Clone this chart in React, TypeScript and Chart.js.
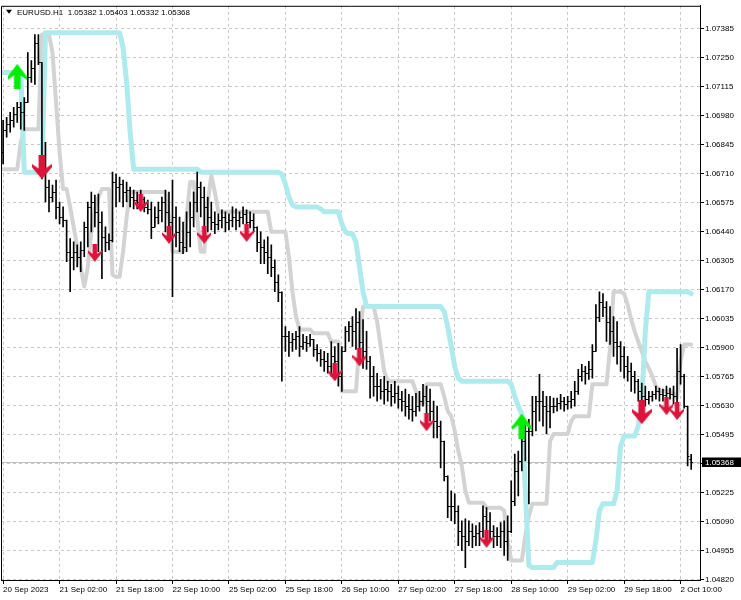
import React, { useEffect, useRef } from 'react';
import { Chart, registerables } from 'chart.js';

Chart.register(...registerables);

// ---------------- data ----------------
const symbolTitle = 'EURUSD.H1';
const lastBarOHLC = [1.05382, 1.05403, 1.05332, 1.05368];

const timeTickBars = [0, 16, 32, 48, 64, 80, 96, 112, 128, 144, 160, 176, 192];
const timeTickLabels = [
  '20 Sep 2023', '21 Sep 02:00', '21 Sep 18:00', '22 Sep 10:00', '25 Sep 02:00',
  '25 Sep 18:00', '26 Sep 10:00', '27 Sep 02:00', '27 Sep 18:00', '28 Sep 10:00',
  '29 Sep 02:00', '29 Sep 18:00', '2 Oct 10:00',
];
const priceTicks = [
  1.0482, 1.04955, 1.0509, 1.05225, 1.0536, 1.05495, 1.0563, 1.05765, 1.059, 1.06035,
  1.0617, 1.06305, 1.0644, 1.06575, 1.0671, 1.06845, 1.0698, 1.07115, 1.0725, 1.07385,
];

const opens = [
  1.06810, 1.06912, 1.06940, 1.06958, 1.06987, 1.07019, 1.06996, 1.07042, 1.07158, 1.07204,
  1.07320, 1.07228, 1.06740, 1.06648, 1.06601, 1.06624, 1.06555, 1.06508, 1.06494, 1.06346,
  1.06323, 1.06346, 1.06323, 1.06355, 1.06462, 1.06555, 1.06578, 1.06532, 1.06485, 1.06416,
  1.06392, 1.06402, 1.06671, 1.06648, 1.06662, 1.06624, 1.06634, 1.06601, 1.06587, 1.06578,
  1.06592, 1.06555, 1.06546, 1.06462, 1.06508, 1.06541, 1.06578, 1.06532, 1.06485, 1.06508,
  1.06439, 1.06392, 1.06369, 1.06439, 1.06508, 1.06578, 1.06648, 1.06601, 1.06555, 1.06508,
  1.06485, 1.06476, 1.06494, 1.06508, 1.06485, 1.06494, 1.06508, 1.06494, 1.06508, 1.06523,
  1.06485, 1.06494, 1.06462, 1.06392, 1.06369, 1.06346, 1.06323, 1.06276, 1.06207, 1.06160,
  1.05952, 1.05952, 1.05928, 1.05938, 1.05952, 1.05905, 1.05928, 1.05919, 1.05938, 1.05891,
  1.05873, 1.05845, 1.05836, 1.05812, 1.05859, 1.05836, 1.05766, 1.05882, 1.05975, 1.05998,
  1.05975, 1.06021, 1.05928, 1.05882, 1.05836, 1.05766, 1.05720, 1.05720, 1.05696, 1.05706,
  1.05696, 1.05673, 1.05687, 1.05659, 1.05650, 1.05627, 1.05613, 1.05604, 1.05627, 1.05650,
  1.05673, 1.05650, 1.05604, 1.05557, 1.05534, 1.05464, 1.05302, 1.05163, 1.05163, 1.05140,
  1.05047, 1.05024, 1.05000, 1.05047, 1.05024, 1.05038, 1.05047, 1.05116, 1.05093, 1.05047,
  1.05024, 1.05024, 1.05047, 1.05000, 1.05047, 1.05186, 1.05325, 1.05372, 1.05464, 1.05511,
  1.05511, 1.05604, 1.05650, 1.05650, 1.05627, 1.05604, 1.05627, 1.05627, 1.05641, 1.05650,
  1.05636, 1.05650, 1.05659, 1.05696, 1.05766, 1.05789, 1.05780, 1.05798, 1.05882, 1.06044,
  1.06114, 1.06091, 1.06021, 1.05975, 1.05928, 1.05905, 1.05859, 1.05812, 1.05789, 1.05766,
  1.05743, 1.05696, 1.05673, 1.05659, 1.05673, 1.05682, 1.05696, 1.05682, 1.05677, 1.05687,
  1.05682, 1.05673, 1.05789, 1.05766, 1.05627, 1.05382,
];
const highs = [
  1.06958, 1.06972, 1.06996, 1.07019, 1.07042, 1.07042, 1.07065, 1.07274, 1.07237, 1.07358,
  1.07358, 1.07228, 1.06856, 1.06680, 1.06657, 1.06680, 1.06578, 1.06555, 1.06494, 1.06407,
  1.06392, 1.06378, 1.06392, 1.06485, 1.06578, 1.06624, 1.06610, 1.06615, 1.06532, 1.06462,
  1.06430, 1.06717, 1.06708, 1.06694, 1.06680, 1.06671, 1.06648, 1.06634, 1.06624, 1.06634,
  1.06601, 1.06587, 1.06578, 1.06555, 1.06578, 1.06601, 1.06634, 1.06624, 1.06680, 1.06555,
  1.06508, 1.06485, 1.06532, 1.06578, 1.06624, 1.06717, 1.06671, 1.06648, 1.06601, 1.06578,
  1.06532, 1.06523, 1.06541, 1.06532, 1.06523, 1.06555, 1.06546, 1.06532, 1.06555, 1.06541,
  1.06532, 1.06523, 1.06462, 1.06439, 1.06402, 1.06416, 1.06378, 1.06309, 1.06239, 1.06160,
  1.05998, 1.05975, 1.05966, 1.05975, 1.05998, 1.05961, 1.05952, 1.05961, 1.05938, 1.05914,
  1.05891, 1.05882, 1.05873, 1.05928, 1.05905, 1.05919, 1.05905, 1.05998, 1.06021, 1.06044,
  1.06082, 1.06068, 1.06030, 1.05975, 1.05859, 1.05812, 1.05780, 1.05752, 1.05766, 1.05743,
  1.05729, 1.05743, 1.05720, 1.05696, 1.05706, 1.05682, 1.05673, 1.05687, 1.05696, 1.05729,
  1.05720, 1.05706, 1.05650, 1.05627, 1.05557, 1.05464, 1.05302, 1.05232, 1.05218, 1.05163,
  1.05093, 1.05102, 1.05093, 1.05079, 1.05070, 1.05084, 1.05163, 1.05154, 1.05131, 1.05070,
  1.05061, 1.05084, 1.05093, 1.05116, 1.05279, 1.05404, 1.05418, 1.05534, 1.05557, 1.05566,
  1.05673, 1.05673, 1.05775, 1.05696, 1.05673, 1.05673, 1.05664, 1.05664, 1.05682, 1.05668,
  1.05673, 1.05696, 1.05743, 1.05798, 1.05822, 1.05812, 1.05836, 1.05914, 1.06100, 1.06160,
  1.06151, 1.06114, 1.06091, 1.06044, 1.06021, 1.05928, 1.05905, 1.05859, 1.05827, 1.05789,
  1.05752, 1.05734, 1.05720, 1.05696, 1.05696, 1.05720, 1.05711, 1.05706, 1.05720, 1.05711,
  1.05720, 1.05896, 1.05914, 1.05775, 1.05627, 1.05403,
];
const lows = [
  1.06755, 1.06880, 1.06903, 1.06926, 1.06949, 1.06917, 1.06912, 1.07042, 1.07135, 1.07126,
  1.07218, 1.06685, 1.06578, 1.06532, 1.06578, 1.06499, 1.06476, 1.06462, 1.06300, 1.06160,
  1.06262, 1.06276, 1.06253, 1.06323, 1.06369, 1.06439, 1.06462, 1.06346, 1.06221, 1.06346,
  1.06355, 1.06392, 1.06555, 1.06578, 1.06555, 1.06578, 1.06555, 1.06546, 1.06546, 1.06555,
  1.06532, 1.06523, 1.06407, 1.06462, 1.06476, 1.06485, 1.06439, 1.06416, 1.06137, 1.06369,
  1.06346, 1.06337, 1.06346, 1.06369, 1.06462, 1.06532, 1.06508, 1.06462, 1.06439, 1.06448,
  1.06430, 1.06448, 1.06457, 1.06439, 1.06448, 1.06462, 1.06448, 1.06462, 1.06476, 1.06448,
  1.06457, 1.06439, 1.06346, 1.06291, 1.06291, 1.06244, 1.06230, 1.06160, 1.06114, 1.05743,
  1.05882, 1.05859, 1.05882, 1.05891, 1.05859, 1.05891, 1.05882, 1.05905, 1.05859, 1.05836,
  1.05812, 1.05789, 1.05780, 1.05766, 1.05752, 1.05720, 1.05696, 1.05882, 1.05928, 1.05905,
  1.05891, 1.05859, 1.05803, 1.05798, 1.05664, 1.05673, 1.05650, 1.05659, 1.05636, 1.05650,
  1.05627, 1.05641, 1.05618, 1.05604, 1.05580, 1.05566, 1.05557, 1.05580, 1.05604, 1.05627,
  1.05580, 1.05557, 1.05479, 1.05479, 1.05339, 1.05279, 1.05107, 1.05093, 1.05079, 1.04977,
  1.04954, 1.04875, 1.04977, 1.04968, 1.04977, 1.04977, 1.05015, 1.05024, 1.05000, 1.04968,
  1.04977, 1.04968, 1.04931, 1.04908, 1.05038, 1.05163, 1.05209, 1.05325, 1.05372, 1.05172,
  1.05488, 1.05511, 1.05557, 1.05534, 1.05497, 1.05525, 1.05595, 1.05604, 1.05613, 1.05604,
  1.05613, 1.05618, 1.05627, 1.05682, 1.05743, 1.05729, 1.05752, 1.05757, 1.05882, 1.06021,
  1.06044, 1.05928, 1.05914, 1.05859, 1.05822, 1.05789, 1.05757, 1.05743, 1.05696, 1.05687,
  1.05650, 1.05618, 1.05627, 1.05636, 1.05650, 1.05659, 1.05650, 1.05650, 1.05650, 1.05659,
  1.05636, 1.05618, 1.05729, 1.05618, 1.05348, 1.05332,
];
const closes = [
  1.06912, 1.06940, 1.06958, 1.06987, 1.07019, 1.06996, 1.07042, 1.07158, 1.07204, 1.07320,
  1.07228, 1.06740, 1.06648, 1.06601, 1.06624, 1.06555, 1.06508, 1.06494, 1.06346, 1.06323,
  1.06346, 1.06323, 1.06355, 1.06462, 1.06555, 1.06578, 1.06532, 1.06485, 1.06416, 1.06392,
  1.06402, 1.06671, 1.06648, 1.06662, 1.06624, 1.06634, 1.06601, 1.06587, 1.06578, 1.06592,
  1.06555, 1.06546, 1.06462, 1.06508, 1.06541, 1.06578, 1.06532, 1.06485, 1.06508, 1.06439,
  1.06392, 1.06369, 1.06439, 1.06508, 1.06578, 1.06648, 1.06601, 1.06555, 1.06508, 1.06485,
  1.06476, 1.06494, 1.06508, 1.06485, 1.06494, 1.06508, 1.06494, 1.06508, 1.06523, 1.06485,
  1.06494, 1.06462, 1.06392, 1.06369, 1.06346, 1.06323, 1.06276, 1.06207, 1.06160, 1.05952,
  1.05952, 1.05928, 1.05938, 1.05952, 1.05905, 1.05928, 1.05919, 1.05938, 1.05891, 1.05873,
  1.05845, 1.05836, 1.05812, 1.05859, 1.05836, 1.05766, 1.05882, 1.05975, 1.05998, 1.05975,
  1.06021, 1.05928, 1.05882, 1.05836, 1.05766, 1.05720, 1.05720, 1.05696, 1.05706, 1.05696,
  1.05673, 1.05687, 1.05659, 1.05650, 1.05627, 1.05613, 1.05604, 1.05627, 1.05650, 1.05673,
  1.05650, 1.05604, 1.05557, 1.05534, 1.05464, 1.05302, 1.05163, 1.05163, 1.05140, 1.05047,
  1.05024, 1.05000, 1.05047, 1.05024, 1.05038, 1.05047, 1.05116, 1.05093, 1.05047, 1.05024,
  1.05024, 1.05047, 1.05000, 1.05047, 1.05186, 1.05325, 1.05372, 1.05464, 1.05511, 1.05511,
  1.05604, 1.05650, 1.05650, 1.05627, 1.05604, 1.05627, 1.05627, 1.05641, 1.05650, 1.05636,
  1.05650, 1.05659, 1.05696, 1.05766, 1.05789, 1.05780, 1.05798, 1.05882, 1.06044, 1.06114,
  1.06091, 1.06021, 1.05975, 1.05928, 1.05905, 1.05859, 1.05812, 1.05789, 1.05766, 1.05743,
  1.05696, 1.05673, 1.05659, 1.05673, 1.05682, 1.05696, 1.05682, 1.05677, 1.05687, 1.05682,
  1.05673, 1.05789, 1.05766, 1.05627, 1.05395, 1.05368,
];

// trailing-stop style channel (light cyan) and middle line (light grey)
const channelUpper = [
  1.07181, 1.07181, 1.07181, 1.07181, 1.07181, 1.07181, 1.06717, 1.06717, 1.06717, 1.06717,
  1.06717, 1.06717, 1.07367, 1.07367, 1.07367, 1.07367, 1.07367, 1.07367, 1.07367, 1.07367,
  1.07367, 1.07367, 1.07367, 1.07367, 1.07367, 1.07367, 1.07367, 1.07367, 1.07367, 1.07367,
  1.07367, 1.07367, 1.07367, 1.07367, 1.07297, 1.07135, 1.06903, 1.06731, 1.06731, 1.06731,
  1.06731, 1.06731, 1.06731, 1.06731, 1.06731, 1.06731, 1.06731, 1.06731, 1.06731, 1.06731,
  1.06731, 1.06731, 1.06731, 1.06731, 1.06731, 1.06731, 1.06717, 1.06717, 1.06717, 1.06717,
  1.06717, 1.06717, 1.06717, 1.06717, 1.06717, 1.06717, 1.06717, 1.06717, 1.06717, 1.06717,
  1.06717, 1.06717, 1.06717, 1.06717, 1.06717, 1.06717, 1.06717, 1.06717, 1.06717, 1.06708,
  1.06662, 1.06601, 1.06564, 1.06555, 1.06555, 1.06555, 1.06555, 1.06555, 1.06555, 1.06555,
  1.06546, 1.06532, 1.06532, 1.06532, 1.06532, 1.06532, 1.06476, 1.06439, 1.06430, 1.06430,
  1.06392, 1.06276, 1.06160, 1.06091, 1.06091, 1.06091, 1.06091, 1.06091, 1.06091, 1.06091,
  1.06091, 1.06091, 1.06091, 1.06091, 1.06091, 1.06091, 1.06091, 1.06091, 1.06091, 1.06091,
  1.06091, 1.06091, 1.06091, 1.06091, 1.06091, 1.06068, 1.05998, 1.05905, 1.05812, 1.05757,
  1.05743, 1.05743, 1.05743, 1.05743, 1.05743, 1.05743, 1.05743, 1.05743, 1.05743, 1.05743,
  1.05743, 1.05743, 1.05743, 1.05743, 1.05729, 1.05673, 1.05627, 1.05590, 1.05232, 1.04884,
  1.04875, 1.04875, 1.04875, 1.04875, 1.04875, 1.04875, 1.04875, 1.04899, 1.04899, 1.04899,
  1.04899, 1.04899, 1.04899, 1.04899, 1.04899, 1.04899, 1.04899, 1.04899, 1.05000, 1.05140,
  1.05172, 1.05172, 1.05172, 1.05172, 1.05232, 1.05441, 1.05488, 1.05488, 1.05488, 1.05488,
  1.05534, 1.05650, 1.05975, 1.06160, 1.06160, 1.06160, 1.06160, 1.06160, 1.06160, 1.06160,
  1.06160, 1.06160, 1.06160, 1.06160, 1.06160, 1.06151,
];
const channelMiddle = [
  1.06731, 1.06731, 1.06731, 1.06731, 1.06731, 1.06856, 1.06917, 1.06917, 1.06917, 1.06917,
  1.06917, 1.07358, 1.07358, 1.07358, 1.07274, 1.07042, 1.06810, 1.06638, 1.06638, 1.06555,
  1.06462, 1.06369, 1.06276, 1.06184, 1.06276, 1.06439, 1.06546, 1.06601, 1.06638, 1.06638,
  1.06638, 1.06239, 1.06230, 1.06230, 1.06346, 1.06508, 1.06624, 1.06624, 1.06624, 1.06624,
  1.06624, 1.06624, 1.06624, 1.06624, 1.06624, 1.06624, 1.06624, 1.06508, 1.06346, 1.06346,
  1.06346, 1.06346, 1.06508, 1.06671, 1.06671, 1.06508, 1.06346, 1.06346, 1.06578, 1.06703,
  1.06624, 1.06532, 1.06532, 1.06532, 1.06532, 1.06532, 1.06532, 1.06532, 1.06532, 1.06532,
  1.06532, 1.06532, 1.06532, 1.06532, 1.06532, 1.06532, 1.06439, 1.06439, 1.06439, 1.06439,
  1.06439, 1.06323, 1.06160, 1.06044, 1.05984, 1.05984, 1.05984, 1.05984, 1.05966, 1.05966,
  1.05966, 1.05966, 1.05966, 1.05928, 1.05928, 1.05928, 1.05696, 1.05696, 1.05696, 1.05696,
  1.05696, 1.05928, 1.06091, 1.06091, 1.06091, 1.06091, 1.06021, 1.05905, 1.05789, 1.05743,
  1.05743, 1.05743, 1.05743, 1.05743, 1.05743, 1.05743, 1.05743, 1.05696, 1.05636, 1.05636,
  1.05729, 1.05729, 1.05729, 1.05729, 1.05729, 1.05673, 1.05604, 1.05580, 1.05511, 1.05418,
  1.05348, 1.05232, 1.05177, 1.05177, 1.05177, 1.05177, 1.05177, 1.05154, 1.05154, 1.05154,
  1.05154, 1.05154, 1.05140, 1.05000, 1.04908, 1.04908, 1.04908, 1.04908, 1.05024, 1.05116,
  1.05172, 1.05172, 1.05172, 1.05172, 1.05172, 1.05464, 1.05497, 1.05497, 1.05497, 1.05497,
  1.05497, 1.05557, 1.05580, 1.05580, 1.05580, 1.05580, 1.05580, 1.05729, 1.05729, 1.05729,
  1.05729, 1.05729, 1.05896, 1.06160, 1.06160, 1.06160, 1.06151, 1.06100, 1.06030, 1.05975,
  1.05928, 1.05882, 1.05836, 1.05803, 1.05766, 1.05720, 1.05696, 1.05696, 1.05696, 1.05696,
  1.05687, 1.05664, 1.05836, 1.05914, 1.05914, 1.05914,
];

// signal arrows: bar index and price level
const buyBars = [4, 147];
const buyPrices = [1.07163, 1.05534];
const strongSellBars = [11, 181];
const strongSellPrices = [1.06740, 1.05599];
const sellBars = [26, 39, 47, 57, 69, 94, 101, 120, 137, 188, 191];
const sellPrices = [1.06341, 1.06573, 1.06425, 1.06425, 1.06434, 1.05784, 1.05854, 1.05552, 1.05009, 1.05627, 1.05604];

// ---------------- styling ----------------
const FONT = "'Liberation Sans', Arial, sans-serif";

function makeArrow(color: string, w: number, h: number, up: boolean): HTMLCanvasElement {
  const c = document.createElement('canvas');
  c.width = w;
  c.height = h;
  const g = c.getContext('2d')!;
  const cx = w / 2;
  const sw = w * 0.17;
  const pts: [number, number][] = [
    [cx - sw, 0], [cx + sw, 0], [cx + sw, h * 0.55], [w, h * 0.36], [w, h * 0.5], [cx, h],
    [0, h * 0.5], [0, h * 0.36], [cx - sw, h * 0.55],
  ];
  g.fillStyle = color;
  g.beginPath();
  pts.forEach(([x, y], k) => {
    const yy = up ? h - y : y;
    if (k === 0) g.moveTo(x, yy);
    else g.lineTo(x, yy);
  });
  g.closePath();
  g.fill();
  return c;
}

export default function App() {
  const ref = useRef<HTMLCanvasElement>(null);

  useEffect(() => {
    const canvas = ref.current;
    if (!canvas) return;
    const n = closes.length;
    const lastClose = lastBarOHLC[3];

    const greenUp = makeArrow('#00ee00', 19, 25, true);
    const bigRed = makeArrow('#dc143c', 20, 24, false);
    const smallRed = makeArrow('#dc143c', 14, 18, false);

    const rangeData = closes.map((_, i) => ({ x: i, y: [lows[i], highs[i]] }));
    const upperData = channelUpper.map((v, i) => ({ x: i, y: v }));
    const middleData = channelMiddle.map((v, i) => ({ x: i, y: v }));

    const priceLine = {
      id: 'priceLine',
      beforeDatasetsDraw(chart: any) {
        const { ctx, chartArea, scales } = chart;
        const py = Math.round(scales.y.getPixelForValue(lastClose)) + 0.5;
        ctx.save();
        ctx.strokeStyle = '#c0c0c0';
        ctx.lineWidth = 1;
        ctx.beginPath();
        ctx.moveTo(chartArea.left, py);
        ctx.lineTo(chartArea.right, py);
        ctx.stroke();
        ctx.restore();
      },
    };

    const ohlcTicks = {
      id: 'ohlcTicks',
      afterDatasetDraw(chart: any, args: any) {
        if (args.index !== 3) return;
        const { ctx, scales, chartArea } = chart;
        ctx.save();
        ctx.beginPath();
        ctx.rect(chartArea.left, chartArea.top, chartArea.right - chartArea.left, chartArea.bottom - chartArea.top);
        ctx.clip();
        ctx.strokeStyle = '#000';
        ctx.lineWidth = 1;
        ctx.beginPath();
        for (let i = 0; i < n; i++) {
          const px = scales.x.getPixelForValue(i);
          const yo = Math.round(scales.y.getPixelForValue(opens[i])) + 0.5;
          const yc = Math.round(scales.y.getPixelForValue(closes[i])) + 0.5;
          ctx.moveTo(px - 1.8, yo);
          ctx.lineTo(px, yo);
          ctx.moveTo(px, yc);
          ctx.lineTo(px + 1.8, yc);
        }
        ctx.stroke();
        ctx.restore();
      },
    };

    const chrome = {
      id: 'chrome',
      afterDraw(chart: any) {
        const { ctx, chartArea, scales } = chart;
        ctx.save();
        // frame (left + top)
        ctx.strokeStyle = '#000';
        ctx.lineWidth = 1;
        ctx.beginPath();
        ctx.moveTo(chartArea.left + 0.5, chartArea.bottom);
        ctx.lineTo(chartArea.left + 0.5, chartArea.top + 0.5);
        ctx.lineTo(chartArea.right, chartArea.top + 0.5);
        ctx.stroke();
        // title
        const tx = chartArea.left;
        const ty = chartArea.top;
        ctx.fillStyle = '#000';
        ctx.beginPath();
        ctx.moveTo(tx + 5, ty + 4);
        ctx.lineTo(tx + 11, ty + 4);
        ctx.lineTo(tx + 8, ty + 8);
        ctx.closePath();
        ctx.fill();
        ctx.font = `8px ${FONT}`;
        ctx.textBaseline = 'alphabetic';
        ctx.textAlign = 'left';
        const title = `${symbolTitle}  ${lastBarOHLC.map((v) => v.toFixed(5)).join(' ')}`;
        ctx.fillText(title, tx + 16, ty + 9.5);
        // current price label on axis
        const py = Math.round(scales.y.getPixelForValue(lastClose));
        ctx.fillStyle = '#000';
        ctx.fillRect(chartArea.right + 2, py - 4.5, 39, 9.5);
        ctx.fillStyle = '#fff';
        ctx.textBaseline = 'middle';
        ctx.fillText(lastClose.toFixed(5), chartArea.right + 5, py + 0.5);
        ctx.restore();
      },
    };

    const chart = new Chart(canvas, {
      type: 'bar',
      data: {
        datasets: [
          {
            type: 'scatter',
            label: 'buy',
            data: buyBars.map((b, k) => ({ x: b, y: buyPrices[k] })),
            pointStyle: greenUp,
            pointRadius: 8,
          } as any,
          {
            type: 'scatter',
            label: 'strong sell',
            data: strongSellBars.map((b, k) => ({ x: b, y: strongSellPrices[k] })),
            pointStyle: bigRed,
            pointRadius: 8,
          } as any,
          {
            type: 'scatter',
            label: 'sell',
            data: sellBars.map((b, k) => ({ x: b, y: sellPrices[k] })),
            pointStyle: smallRed,
            pointRadius: 6,
          } as any,
          {
            type: 'bar',
            label: 'range',
            data: rangeData,
            backgroundColor: '#000',
            barThickness: 1,
            borderWidth: 0,
          } as any,
          {
            type: 'line',
            label: 'upper',
            data: upperData,
            borderColor: '#afeaec',
            borderWidth: 5,
            pointRadius: 0,
            tension: 0,
            borderJoinStyle: 'round',
            borderCapStyle: 'round',
          } as any,
          {
            type: 'line',
            label: 'middle',
            data: middleData,
            borderColor: '#d3d3d3',
            borderWidth: 4,
            pointRadius: 0,
            tension: 0,
            borderJoinStyle: 'round',
            borderCapStyle: 'round',
          } as any,
        ],
      },
      options: {
        responsive: false,
        maintainAspectRatio: false,
        devicePixelRatio: 1,
        animation: false,
        events: [],
        layout: { autoPadding: false, padding: { left: 1, top: 3, right: 0, bottom: 0 } },
        plugins: {
          legend: { display: false },
          tooltip: { enabled: false },
          title: { display: false },
        },
        scales: {
          x: {
            type: 'linear',
            min: -0.6,
            max: 197.5,
            offset: false,
            position: 'bottom',
            afterBuildTicks: (s: any) => {
              s.ticks = timeTickBars.map((v) => ({ value: v }));
            },
            afterFit: (s: any) => {
              s.height = 20;
            },
            ticks: {
              autoSkip: false,
              maxRotation: 0,
              minRotation: 0,
              align: 'start',
              padding: 1,
              color: '#000',
              font: { family: FONT, size: 8 },
              callback: (_v: any, idx: number) => timeTickLabels[idx],
            },
            grid: {
              offset: false,
              color: '#c8c8c8',
              lineWidth: 1,
              tickColor: '#000',
              tickLength: 4,
              tickBorderDash: [],
            },
            border: { display: true, color: '#000', width: 1, dash: [3, 3] },
          },
          y: {
            type: 'linear',
            position: 'right',
            min: 1.04817,
            max: 1.07492,
            beginAtZero: false,
            afterBuildTicks: (s: any) => {
              s.ticks = priceTicks.map((v) => ({ value: v }));
            },
            afterFit: (s: any) => {
              s.width = 41;
            },
            ticks: {
              padding: 1,
              color: '#000',
              font: { family: FONT, size: 8 },
              callback: (v: any) => (Math.abs(v - lastClose) < 0.0001 ? '' : Number(v).toFixed(5)),
            },
            grid: {
              color: '#c8c8c8',
              lineWidth: 1,
              tickColor: '#000',
              tickLength: 4,
              tickBorderDash: [],
            },
            border: { display: true, color: '#000', width: 1, dash: [3, 3] },
          },
        },
      } as any,
      plugins: [priceLine, ohlcTicks, chrome],
    });

    return () => chart.destroy();
  }, []);

  return (
    <div style={{ position: 'absolute', left: 0, top: 0, width: 741, height: 600, background: '#fff' }}>
      <canvas ref={ref} width={741} height={600} style={{ display: 'block', width: 741, height: 600 }} />
    </div>
  );
}
